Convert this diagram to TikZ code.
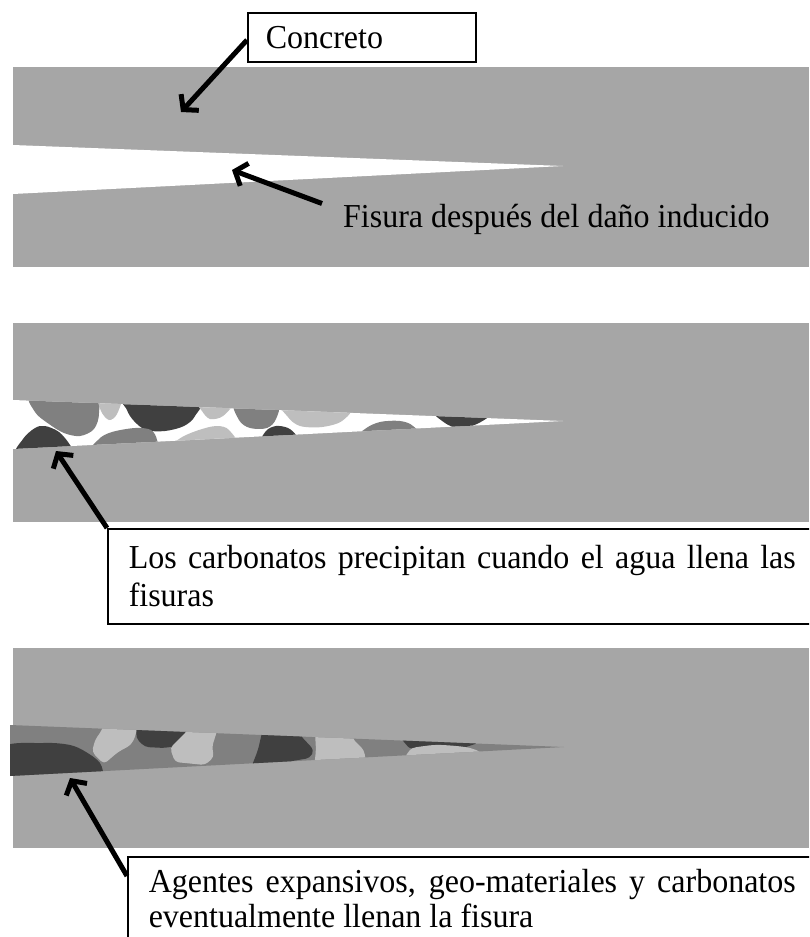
\documentclass[tikz,border=0pt]{standalone}
\usepackage{fontspec}
\setmainfont{Liberation Serif}[FakeStretch=0.955]
\usetikzlibrary{arrows.meta}
\definecolor{concrete}{HTML}{A6A6A6}
\definecolor{grainD}{HTML}{404040}
\definecolor{grainM}{HTML}{808080}
\definecolor{grainL}{HTML}{BEBEBE}
\begin{document}
\begin{tikzpicture}[x=1pt,y=-1pt,
  txt/.style={font={\fontsize{33.5}{38}\selectfont\hyphenpenalty=10000\exhyphenpenalty=10000}},
  plain/.style={txt, inner xsep=21pt, inner ysep=0pt},
  callout/.style={txt, draw=black, line width=1.5pt, fill=white, anchor=north west},
  pointer/.style={line width=5pt, -{Straight Barb[length=10pt,width=24pt]}},
  grainsm/.style={smooth cycle, tension=0.55}]
\useasboundingbox (0,0) rectangle (809,937);
\clip (0,0) rectangle (809,937);

% ---------- first slab: open crack ----------
\fill[concrete] (13,67) rectangle (809,267);
\fill[white] (13,145) -- (563,166) -- (13,194) -- cycle;

% ---------- second slab: carbonates in the crack ----------
\fill[concrete] (13,323) rectangle (809,522);
\fill[white] (13,400) -- (563,421) -- (13,449) -- cycle;
\begin{scope}
  \clip (13,400) -- (563,421) -- (13,449) -- cycle;
  \fill[grainM] plot[grainsm] coordinates {(32,394) (93,394) (99,413) (94,429) (80,436) (64,433) (49,424) (35,412)};
  \fill[grainL] plot[grainsm] coordinates {(99,396) (121,396) (117,414) (109,420) (101,411)};
  \fill[grainD] plot[grainsm] coordinates {(126,397) (197,400) (195,416) (184,426) (165,431) (146,430) (134,421) (127,410)};
  \fill[grainL] plot[grainsm] coordinates {(198,401) (232,402) (223,416) (210,419) (202,411)};
  \fill[grainM] plot[grainsm] coordinates {(235,401) (276,404) (276,419) (267,428) (250,428) (239,420)};
  \fill[grainL] plot[grainsm] coordinates {(285,405) (348,407) (342,421) (322,427) (300,426) (288,417)};
  \fill[grainD] plot[grainsm] coordinates {(434,409) (490,411) (479,423) (460,428) (445,423)};
  \fill[grainD] plot[grainsm] coordinates {(18,455) (23,439) (35,428) (45,426) (59,432) (70,445) (72,455)};
  \fill[grainM] plot[grainsm] coordinates {(94,452) (99,439) (112,432) (135,428) (151,430) (157,440) (155,452)};
  \fill[grainL] plot[grainsm] coordinates {(171,450) (179,439) (196,431) (216,426) (229,430) (234,447)};
  \fill[grainD] plot[grainsm] coordinates {(262,444) (266,431) (276,426) (288,428) (296,435) (298,444)};
  \fill[grainM] plot[grainsm] coordinates {(355,442) (365,429) (380,422) (400,421) (413,426) (421,440)};
\end{scope}

% ---------- third slab: crack filled up ----------
\fill[concrete] (13,648) rectangle (809,848);
\begin{scope}
  \clip (10,725) -- (564,747) -- (10,776) -- cycle;
  \fill[grainM] (0,700) rectangle (600,800);
  \fill[grainD] plot[grainsm] coordinates {(2,748) (43,743) (70,745) (86,752) (100,763) (104,778) (104,790) (2,790)};
  \fill[grainL, rounded corners=4pt] (107,715) -- (137,715) -- (136,735) -- (131,745) -- (118,752) -- (104,764) -- (92,752) -- (95,740) -- (102,730) -- cycle;
  \fill[grainD, rounded corners=4pt] (138,715) -- (190,715) -- (188,733) -- (180,745) -- (165,748) -- (145,747) -- (136,738) -- cycle;
  \fill[grainL, rounded corners=4pt] (170,748) -- (188,730) -- (192,715) -- (222,715) -- (212,747) -- (214,757) -- (205,765) -- (175,762) -- cycle;
  \fill[grainD, rounded corners=4pt] (266,715) -- (295,715) -- (300,735) -- (314,750) -- (310,758) -- (251,768) -- (258,750) -- cycle;
  \fill[grainL, rounded corners=4pt] (314,715) -- (352,715) -- (352,738) -- (364,750) -- (367,768) -- (314,768) -- (316,750) -- cycle;
  \fill[grainD, rounded corners=3pt] (398,735) -- (478,735) -- (478,743) -- (463,748) -- (440,746) -- (425,746) -- (410,749) -- cycle;
  \fill[grainL] plot[grainsm] coordinates {(410,750) (425,746) (442,745) (470,748) (486,756) (486,766) (410,766)};
\end{scope}

% ---------- labels ----------
\node[callout, text width=192pt, inner xsep=18pt, inner ysep=0pt, minimum height=49pt, align=left] (concreto) at (247,12) {Concreto};
\node[plain, anchor=base west] (fisura) at (322,227) {Fisura después del daño inducido};
\node[callout, text width=667pt, inner xsep=21pt, inner ysep=0pt, minimum height=95pt, align=justify] (carb) at (107,528)
  {Los carbonatos precipitan cuando el agua llena las fisuras};
\node[callout, text width=647pt, inner xsep=21pt, inner ysep=12pt, align=justify,
      font={\fontsize{33.5}{35}\selectfont\hyphenpenalty=10000}] (agentes) at (127,856)
  {Agentes expansivos, geo-materiales y carbonatos eventualmente llenan la fisura};

% ---------- pointers ----------
\coordinate (slab) at (181,112);
\coordinate (gap) at (232,170);
\coordinate (deposit) at (56,451);
\coordinate (filling) at (70,778);
\draw[pointer] ([yshift=-28pt]concreto.north west) -- (slab);
\draw[pointer] (fisura.north west) -- (gap);
\draw[pointer] (carb.north west) -- (deposit);
\draw[pointer] ([yshift=-20pt]agentes.north west) -- (filling);
\end{tikzpicture}
\end{document}
